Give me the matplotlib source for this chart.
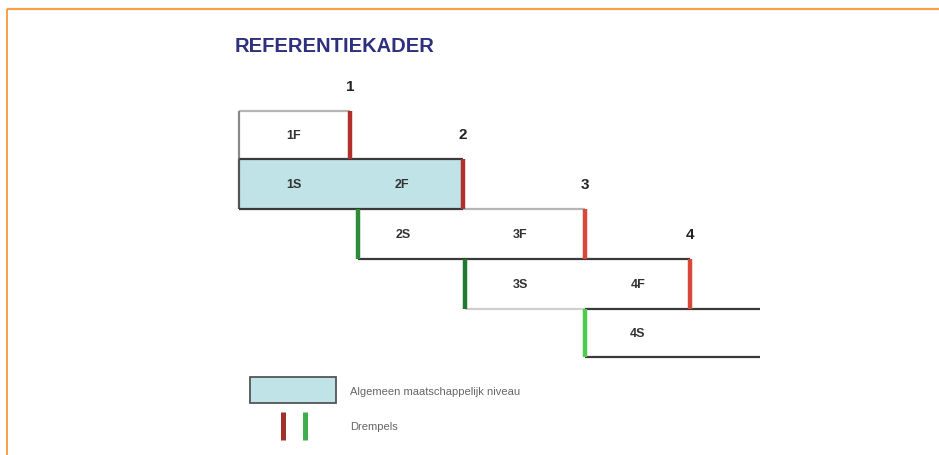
import matplotlib
matplotlib.use("Agg")
import matplotlib.pyplot as plt
from matplotlib.patches import Rectangle

# ---- data ----
title = "REFERENTIEKADER"
levels = ["1", "2", "3", "4"]
row_labels = [["1F"], ["1S", "2F"], ["2S", "3F"], ["3S", "4F"], ["4S"]]
legend_texts = ["Algemeen maatschappelijk niveau", "Drempels"]

# ---- layout (pixel space) ----
W, H = 939, 456
rowy = [112, 160, 210, 260, 310, 358]
row_left = [239, 239, 358, 465, 585]
row_right = [350, 463, 585, 690, 760]
label_x = [[294], [294, 402], [403, 520], [520, 638], [638]]

fig = plt.figure(figsize=(W / 100, H / 100), dpi=100)
ax = fig.add_axes([0, 0, 1, 1])
ax.set_xlim(0, W)
ax.set_ylim(H, 0)
ax.axis("off")

plt.rcParams["font.family"] = ["Liberation Sans", "DejaVu Sans"]

orange = "#f7a04a"
ax.plot([7, W], [10, 10], color=orange, lw=1.6, solid_capstyle="butt")
ax.plot([7, 7], [10, H], color=orange, lw=1.4, solid_capstyle="butt")

ax.text(235, 47, title, fontsize=14.5, fontweight="bold", color="#2e2f7e",
        ha="left", va="center")

dark = "#3a3a3a"
grey = "#b5b5b5"
blue = "#bfe3e6"

# filled row (algemeen maatschappelijk niveau)
ax.add_patch(Rectangle((row_left[1], rowy[1]), row_right[1] - row_left[1],
                       rowy[2] - rowy[1], facecolor=blue, edgecolor="none", zorder=1))

def hline(x0, x1, y, c, lw=1.6):
    ax.plot([x0, x1], [y, y], color=c, lw=lw, solid_capstyle="butt", zorder=2)

def vline(x, y0, y1, c, lw=1.6):
    ax.plot([x, x], [y0, y1], color=c, lw=lw, solid_capstyle="butt", zorder=2)

# borders
hline(239, 350, rowy[0], grey)
vline(239, rowy[0], rowy[1], "#8a8a8a")
hline(239, 463, rowy[1], dark)
vline(239, rowy[1], rowy[2], "#555555")
hline(239, 463, rowy[2], dark)
hline(463, 585, rowy[2], grey)
hline(358, 690, rowy[3], dark)
hline(465, 585, rowy[4], "#cfcfcf")
hline(585, 760, rowy[4], dark)
hline(585, 760, rowy[5], dark)

# thresholds
reds = ["#b3302a", "#b3302a", "#d8473a", "#d8473a"]
for i in range(4):
    vline(row_right[i], rowy[i], rowy[i + 1], reds[i], lw=3.2)
greens = ["#2f8a3c", "#1f7a2e", "#4ccb4c"]
for k, i in enumerate([2, 3, 4]):
    vline(row_left[i], rowy[i], rowy[i + 1], greens[k], lw=3.2)

# row labels
for i, labs in enumerate(row_labels):
    ymid = (rowy[i] + rowy[i + 1]) / 2
    for lab, x in zip(labs, label_x[i]):
        ax.text(x, ymid, lab, fontsize=9, fontweight="bold", color="#333333",
                ha="center", va="center")

# level numbers
for i, lv in enumerate(levels):
    ax.text(row_right[i], rowy[i] - 25, lv, fontsize=11, fontweight="bold",
            color="#222222", ha="center", va="center")

# legend
ax.add_patch(Rectangle((250, 378), 86, 26, facecolor=blue, edgecolor="#555555",
                       lw=1.3, zorder=2))
ax.text(350, 392, legend_texts[0], fontsize=8, color="#666666",
        ha="left", va="center")
vline(283, 413, 441, "#a3302a", lw=3.6)
vline(305, 413, 441, "#3fae4f", lw=3.6)
ax.text(350, 427, legend_texts[1], fontsize=8, color="#666666",
        ha="left", va="center")

fig.savefig("out.png", dpi=100)
